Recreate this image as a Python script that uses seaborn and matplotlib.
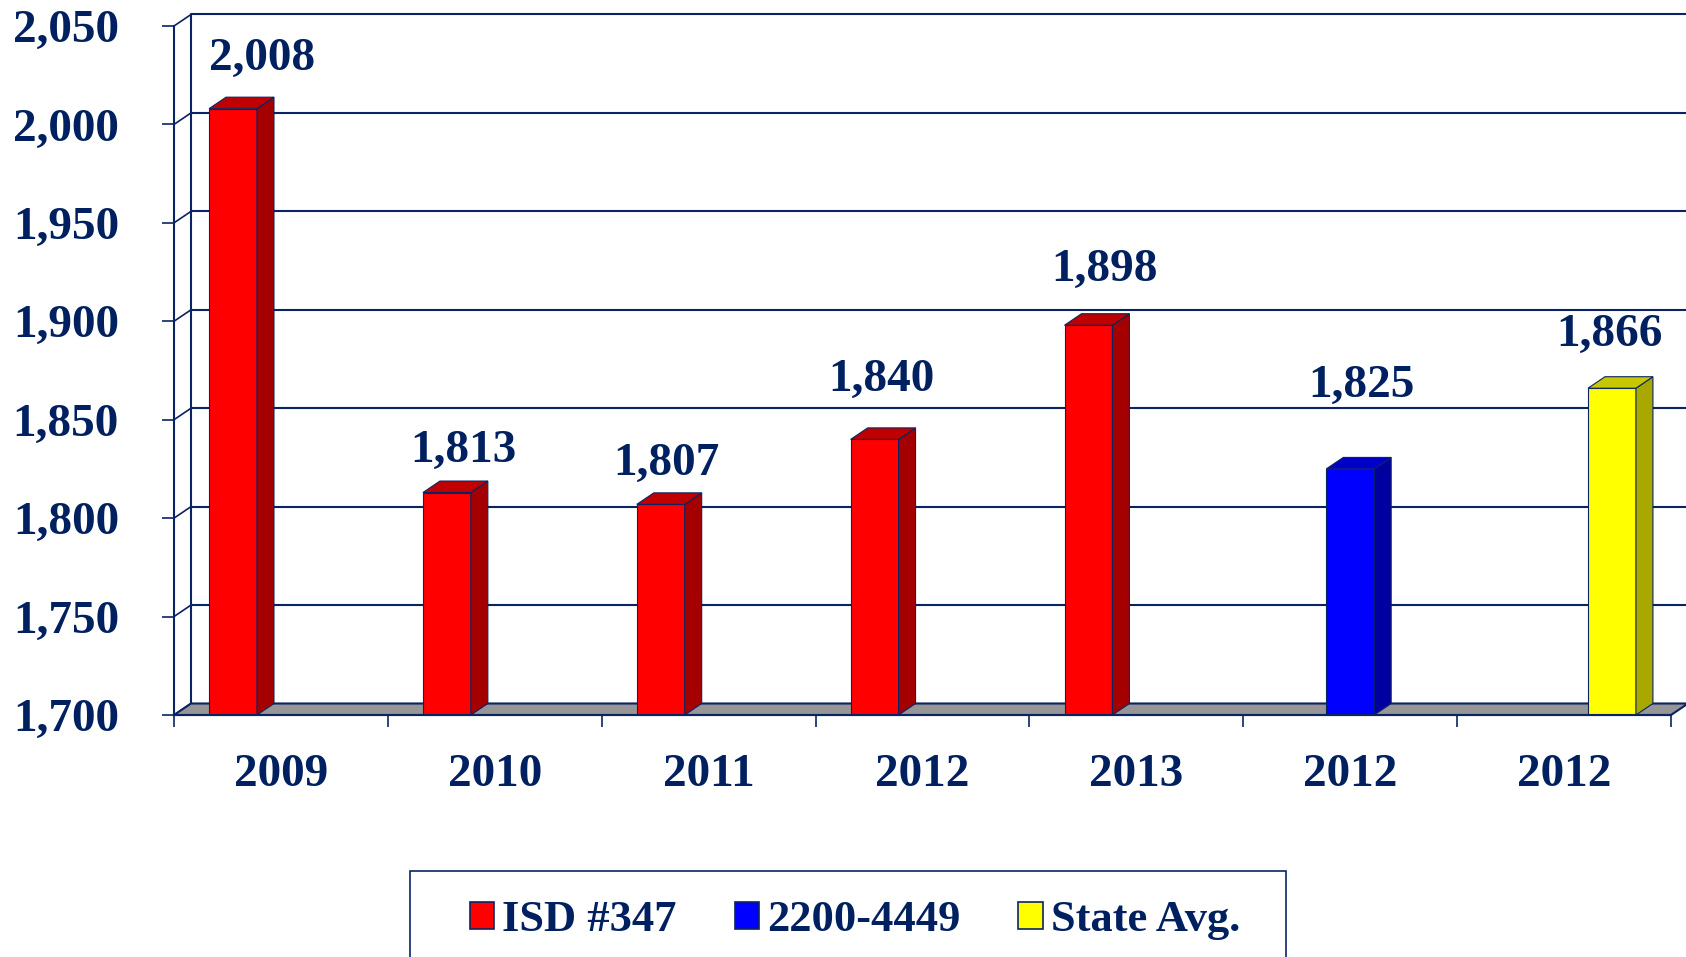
import numpy as np
import pandas as pd
import matplotlib
matplotlib.use("Agg")
import matplotlib.pyplot as plt
from matplotlib.patches import Polygon, Rectangle
from matplotlib.ticker import FuncFormatter, FixedLocator
import seaborn as sns

# ---- data ----
positions = [0, 1, 2, 3, 4, 5, 6]
year_labels = ["2009", "2010", "2011", "2012", "2013", "2012", "2012"]
series = ["ISD #347", "ISD #347", "ISD #347", "ISD #347", "ISD #347", "2200-4449", "State Avg."]
values = [2008, 1813, 1807, 1840, 1898, 1825, 1866]
series_order = ["ISD #347", "2200-4449", "State Avg."]
y_min, y_max, y_step = 1700, 2050, 50

# ---- style ----
front_colors = ["#FF0000", "#0000FF", "#FFFF00"]
side_colors = ["#A50000", "#0000A0", "#A8A800"]
top_colors = ["#C00000", "#0000C8", "#C8C800"]
# value-label nudges in pixels (x right, y up) from the bar's front-top centre
label_nudge_px = [(29.5, 39), (16.5, 31), (5.5, 29), (7, 48), (16.5, 44), (11.5, 72), (-3, 42)]

NAVY = "#0A2463"
TXT = "#002060"

sns.set_style("white")
plt.rcParams["font.family"] = ["Liberation Serif", "DejaVu Serif"]
plt.rcParams["font.weight"] = "bold"

W, H = 1686, 957
fig = plt.figure(figsize=(W / 100, H / 100), dpi=100)
ax_l, ax_r, ax_t, ax_b = 174, 1671, 26, 715
ax = fig.add_axes([ax_l / W, 1 - ax_b / H, (ax_r - ax_l) / W, (ax_b - ax_t) / H])

df = pd.DataFrame({"pos": positions, "series": series, "value": values})
sns.barplot(data=df, x="pos", y="value", hue="series", hue_order=series_order,
            palette=front_colors, width=0.672, dodge=True, edgecolor=NAVY,
            linewidth=0.8, saturation=1, ax=ax, zorder=3, legend=True)

ax.set_xlim(-0.5, len(positions) - 0.5)
ax.set_ylim(y_min, y_max)

# depth offsets (pixels -> data)
px_per_cat = (ax_r - ax_l) / len(positions)
px_per_val = (ax_b - ax_t) / (y_max - y_min)
dx = 17 / px_per_cat
dy = 11.5 / px_per_val
xmin, xmax = ax.get_xlim()

col_map = {tuple(np.round(matplotlib.colors.to_rgb(c), 3)): i for i, c in enumerate(front_colors)}
for p in list(ax.patches):
    x0, w, top = p.get_x(), p.get_width(), p.get_height()
    if not np.isfinite(top) or w <= 0:
        continue
    key = tuple(np.round(p.get_facecolor()[:3], 3))
    i = col_map.get(key, 0)
    x1 = x0 + w
    side = Polygon([(x1, y_min), (x1 + dx, y_min + dy), (x1 + dx, top + dy), (x1, top)],
                   closed=True, facecolor=side_colors[i], edgecolor=NAVY, lw=0.8,
                   zorder=3, clip_on=False)
    topf = Polygon([(x0, top), (x1, top), (x1 + dx, top + dy), (x0 + dx, top + dy)],
                   closed=True, facecolor=top_colors[i], edgecolor=NAVY, lw=0.8,
                   zorder=3, clip_on=False)
    ax.add_patch(side)
    ax.add_patch(topf)
    cat = int(round(x0 + w / 2))
    nx, ny = label_nudge_px[cat]
    ax.annotate(f"{top:,.0f}", xy=(x0 + w / 2, top), xytext=(nx * 0.72, ny * 0.72),
                textcoords="offset points", ha="center", va="baseline",
                fontsize=34, color=TXT, fontweight="bold", annotation_clip=False)

# floor
floor = Polygon([(xmin, y_min), (xmax, y_min), (xmax + dx, y_min + dy), (xmin + dx, y_min + dy)],
                closed=True, facecolor="#969696", edgecolor=NAVY, lw=1.5, zorder=2, clip_on=False)
ax.add_patch(floor)

# back wall and side wall gridlines
yticks = np.arange(y_min, y_max + 1, y_step)
for v in yticks:
    ax.plot([xmin + dx, xmax + dx + 1], [v + dy, v + dy], color=NAVY, lw=1.5,
            zorder=1, clip_on=False, solid_capstyle="butt")
    ax.plot([xmin, xmin + dx], [v, v + dy], color=NAVY, lw=1.2, zorder=1, clip_on=False)
ax.plot([xmin + dx, xmin + dx], [y_min + dy, y_max + dy], color=NAVY, lw=1.5, zorder=1, clip_on=False)

# axes styling
for s in ["top", "right"]:
    ax.spines[s].set_visible(False)
for s in ["left", "bottom"]:
    ax.spines[s].set_color(NAVY)
    ax.spines[s].set_linewidth(1.5)
    ax.spines[s].set_zorder(4)

ax.yaxis.set_major_locator(FixedLocator(yticks))
ax.yaxis.set_major_formatter(FuncFormatter(lambda v, _: f"{v:,.0f}"))
ax.tick_params(axis="y", direction="out", length=8.6, width=1.2, color=NAVY,
               pad=31, labelsize=34, labelcolor=TXT, left=True)
ax.set_xticks(positions)
ax.set_xticklabels(year_labels)
ax.set_xticks(np.arange(-0.5, len(positions), 1.0), minor=True)
ax.tick_params(axis="x", which="major", length=0, pad=28, labelsize=34, labelcolor=TXT)
ax.tick_params(axis="x", which="minor", direction="out", length=8.6, width=1.2, color=NAVY, bottom=True)
for t in ax.get_xticklabels() + ax.get_yticklabels():
    t.set_fontweight("bold")
ax.set_xlabel("")
ax.set_ylabel("")
ax.grid(False)

# legend
sns.move_legend(ax, "center", bbox_to_anchor=(855 / W, 1 - 920 / H),
                bbox_transform=fig.transFigure, ncol=3, frameon=False, title=None,
                prop={"family": "Liberation Serif", "weight": "bold", "size": 32},
                labelcolor=TXT, handlelength=0.55, handleheight=0.55,
                handletextpad=0.18, columnspacing=1.3)
leg = ax.get_legend()
for h in leg.legend_handles:
    h.set_edgecolor(NAVY)
    h.set_linewidth(1.2)

fig.add_artist(Rectangle((410 / W, -10 / H), (1286 - 410) / W, (957 - 871 + 10) / H,
                         transform=fig.transFigure, facecolor="none", edgecolor=NAVY, lw=1.2))

fig.savefig("out.png", dpi=100, facecolor="white")
